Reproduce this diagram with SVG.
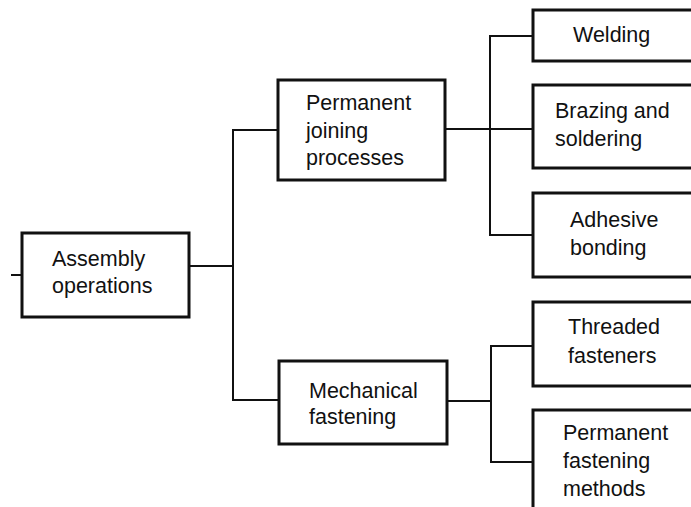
<svg xmlns="http://www.w3.org/2000/svg" width="691" height="507" viewBox="0 0 691 507">
<style>
.box{fill:#fff;stroke:#111;stroke-width:3}
.lbl{font-family:"Liberation Sans",Arial,Helvetica,sans-serif;font-size:21.5px;fill:#111}
.con{fill:none;stroke:#111;stroke-width:2}
</style>
<rect width="691" height="507" fill="#fff"/>
<g id="connectors" class="con">
<path d="M11 275H22"/>
<path d="M189 266H233"/>
<path d="M278 130H233V400H279"/>
<path d="M445 129H533"/>
<path d="M533 36H490V235H533"/>
<path d="M447 401H491"/>
<path d="M533 346H491V462H533"/>
</g>
<g id="assembly">
<rect class="box" x="22" y="233" width="167" height="84"/>
<text class="lbl" x="52" y="266">Assembly</text>
<text class="lbl" x="52" y="293">operations</text>
</g>
<g id="permanent-joining">
<rect class="box" x="278" y="80" width="167" height="100"/>
<text class="lbl" x="306" y="110">Permanent</text>
<text class="lbl" x="306" y="138">joining</text>
<text class="lbl" x="306" y="165">processes</text>
</g>
<g id="mechanical">
<rect class="box" x="279" y="361" width="168" height="83"/>
<text class="lbl" x="309" y="398">Mechanical</text>
<text class="lbl" x="309" y="424">fastening</text>
</g>
<g id="welding">
<rect class="box" x="533" y="10" width="170" height="51"/>
<text class="lbl" x="573" y="42">Welding</text>
</g>
<g id="brazing">
<rect class="box" x="533" y="85" width="170" height="83"/>
<text class="lbl" x="555" y="118">Brazing and</text>
<text class="lbl" x="555" y="146">soldering</text>
</g>
<g id="adhesive">
<rect class="box" x="533" y="193" width="170" height="84"/>
<text class="lbl" x="570" y="227">Adhesive</text>
<text class="lbl" x="570" y="255">bonding</text>
</g>
<g id="threaded">
<rect class="box" x="533" y="302" width="170" height="84"/>
<text class="lbl" x="568" y="334">Threaded</text>
<text class="lbl" x="568" y="363">fasteners</text>
</g>
<g id="permanent-fastening">
<rect class="box" x="533" y="410" width="170" height="110"/>
<text class="lbl" x="563" y="440">Permanent</text>
<text class="lbl" x="563" y="468">fastening</text>
<text class="lbl" x="563" y="496">methods</text>
</g>
</svg>
